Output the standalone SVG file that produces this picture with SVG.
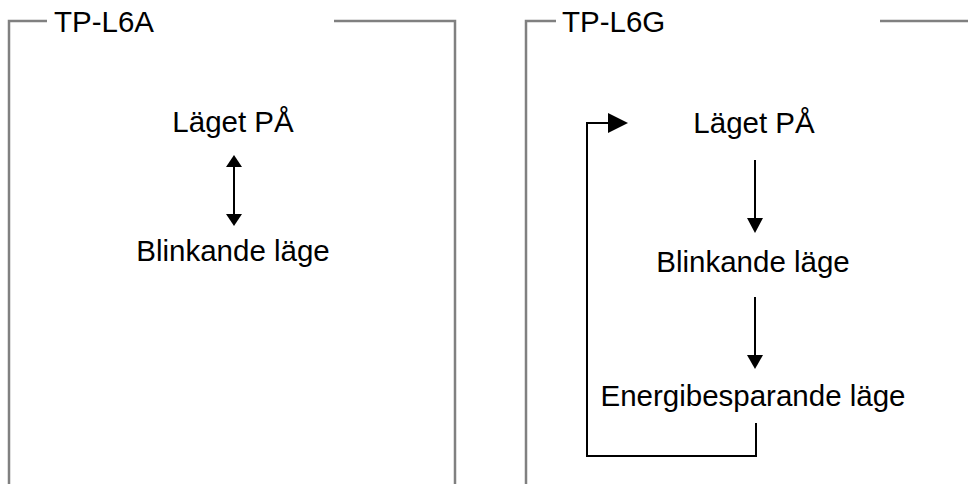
<svg xmlns="http://www.w3.org/2000/svg" width="968" height="484" viewBox="0 0 968 484">
<style>
.frame{fill:none;stroke:#808080;stroke-width:2.5}
.lbl{font-family:"Liberation Sans",Arial,sans-serif;font-size:29.5px;fill:#000}
.mid{text-anchor:middle}
.ln{fill:none;stroke:#000;stroke-width:2}
.hd{fill:#000;stroke:none}
</style>
<rect width="968" height="484" fill="#fff"/>
<g id="frame-a">
<path class="frame" d="M47,21 H9 V484"/>
<path class="frame" d="M334,21 H455 V484"/>
<text class="lbl" x="54" y="32">TP-L6A</text>
</g>
<g id="frame-g">
<path class="frame" d="M556,21 H526 V484"/>
<path class="frame" d="M880,21 H968"/>
<text class="lbl" x="562" y="32">TP-L6G</text>
</g>
<g id="a-on"><text class="lbl mid" x="233" y="132">Läget PÅ</text></g>
<g id="a-blink"><text class="lbl mid" x="233" y="261">Blinkande läge</text></g>
<g id="g-on"><text class="lbl mid" x="754" y="133">Läget PÅ</text></g>
<g id="g-blink"><text class="lbl mid" x="753" y="272">Blinkande läge</text></g>
<g id="g-eco"><text class="lbl mid" x="753" y="406">Energibesparande läge</text></g>
<g id="connectors">
<line class="ln" x1="234" y1="165" x2="234" y2="216"/>
<polygon class="hd" points="234,155 226,167 242,167"/>
<polygon class="hd" points="234,226 226,214 242,214"/>
<line class="ln" x1="755" y1="160" x2="755" y2="220"/>
<polygon class="hd" points="755,233 747,218 763,218"/>
<line class="ln" x1="755" y1="297" x2="755" y2="357"/>
<polygon class="hd" points="755,369 747,355 763,355"/>
<path class="ln" d="M756,423 V456 H587 V123 H610"/>
<polygon class="hd" points="628,123 608,113 608,133"/>
</g>
</svg>
